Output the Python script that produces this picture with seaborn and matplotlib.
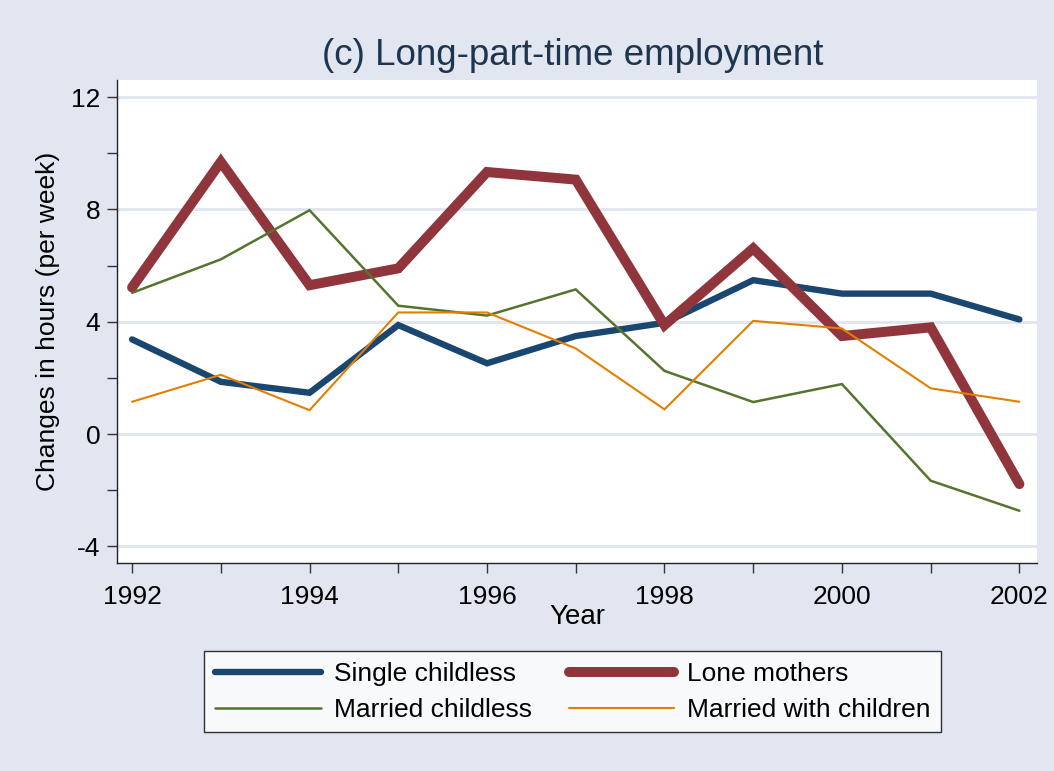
import pandas as pd
import matplotlib
matplotlib.use("Agg")
import matplotlib.pyplot as plt
import seaborn as sns

# values
years = list(range(1992, 2003))
single_childless = [3.37, 1.86, 1.47, 3.88, 2.52, 3.49, 3.96, 5.48, 5.0, 5.0, 4.08]
lone_mothers = [5.22, 9.69, 5.30, 5.90, 9.33, 9.06, 3.88, 6.61, 3.49, 3.80, -1.78]
married_childless = [5.03, 6.22, 7.97, 4.57, 4.22, 5.15, 2.25, 1.14, 1.78, -1.66, -2.73]
married_children = [1.15, 2.11, 0.85, 4.33, 4.33, 3.05, 0.88, 4.03, 3.76, 1.63, 1.15]

series = {
    "Single childless": single_childless,
    "Lone mothers": lone_mothers,
    "Married childless": married_childless,
    "Married with children": married_children,
}

# long format for seaborn
data = pd.DataFrame(
    [(y, name, v) for name, vals in series.items() for y, v in zip(years, vals)],
    columns=["Year", "Group", "Hours"],
)

sns.set_style("white")
plt.rcParams["font.family"] = ["Liberation Sans", "DejaVu Sans"]
plt.rcParams["text.color"] = "black"
plt.rcParams["axes.labelcolor"] = "black"

bg = "#E1E6F0"
styles = {
    "Single childless": ("#1A476F", 4.6),
    "Lone mothers": ("#90353B", 7.2),
    "Married childless": ("#55752F", 1.8),
    "Married with children": ("#E37E00", 1.5),
}

fig = plt.figure(figsize=(10.54, 7.71), dpi=100, facecolor=bg)
ax = fig.add_axes([0.111, 0.2698, 0.873, 0.6262])
ax.set_facecolor("white")

for name, (col, lw) in styles.items():
    sub = data[data["Group"] == name]
    sns.lineplot(data=sub, x="Year", y="Hours", ax=ax, color=col, linewidth=lw,
                 label=name, legend=False, solid_capstyle="round", solid_joinstyle="miter")

ax.set_xlim(1991.83, 2002.2)
ax.set_ylim(-4.59, 12.6)

ax.set_yticks([-4, -2, 0, 2, 4, 6, 8, 10, 12])
ax.set_yticklabels(["-4", "", "0", "", "4", "", "8", "", "12"])
ax.set_xticks(years)
ax.set_xticklabels([str(y) if y % 2 == 0 else "" for y in years])
for g in [-4, 0, 4, 8, 12]:
    ax.axhline(g, color="#E1E6F0", linewidth=2.2, zorder=0)

ax.tick_params(axis="both", direction="out", length=7, width=1, color="#333333",
               labelsize=19, labelcolor="black", pad=5, left=True, bottom=True)
ax.tick_params(axis="x", pad=9)
for s in ["top", "right"]:
    ax.spines[s].set_visible(False)
for s in ["left", "bottom"]:
    ax.spines[s].set_color("#222222")
    ax.spines[s].set_linewidth(1)

ax.set_xlabel("Year", fontsize=20, labelpad=-4)
ax.set_ylabel("Changes in hours (per week)", fontsize=19, labelpad=8)
fig.text(0.5436, 0.928, "(c) Long-part-time employment", fontsize=26.5,
         color="#1E3550", ha="center", va="center")

handles, labels = ax.get_legend_handles_labels()
order = [0, 2, 1, 3]
leg = fig.legend([handles[i] for i in order], [labels[i] for i in order],
                 loc="center", bbox_to_anchor=(0.5436, 0.1025),
                 ncol=2, fontsize=19, frameon=True, fancybox=False, edgecolor="black",
                 handlelength=4.0, columnspacing=1.4, labelspacing=0.45,
                 borderpad=0.4, handletextpad=0.5)
leg.get_frame().set_linewidth(1)

fig.savefig("out.png", dpi=100, facecolor=bg)
